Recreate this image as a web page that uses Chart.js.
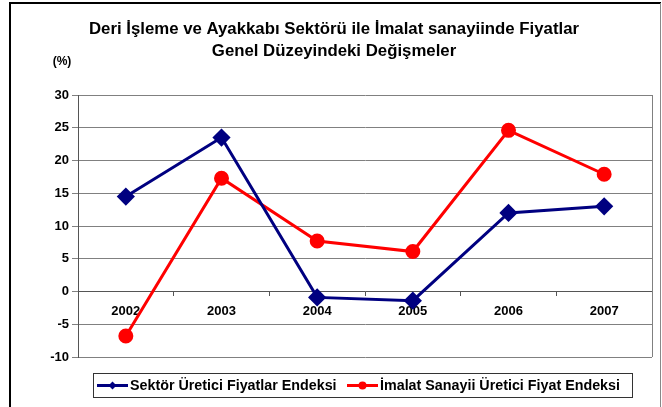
<!DOCTYPE html>
<html>
<head>
<meta charset="utf-8">
<script src="https://cdn.jsdelivr.net/npm/chart.js@4"></script>
<style>
  html, body { margin: 0; padding: 0; background: #fff; }
  #wrap { width: 662px; height: 407px; }
</style>
</head>
<body>
<div id="wrap"><canvas id="fiyatChart" width="662" height="407"></canvas></div>
<script>
const years = ["2002", "2003", "2004", "2005", "2006", "2007"];
const sektorValues = [14.5, 23.5, -0.9, -1.4, 12.0, 13.0];
const imalatValues = [-6.8, 17.3, 7.7, 6.1, 24.6, 17.9];
const titleLines = ["Deri İşleme ve Ayakkabı Sektörü ile İmalat sanayiinde Fiyatlar", "Genel Düzeyindeki Değişmeler"];
const unitLabel = "(%)";

const FONT = "'Liberation Sans', Arial, sans-serif";

// title, unit label, legend box, frame
const decorPlugin = {
  id: 'decor',
  afterDraw(chart) {
    const ctx = chart.ctx;
    const area = chart.chartArea;
    ctx.save();
    // right edge of plot area
    ctx.strokeStyle = '#808080';
    ctx.lineWidth = 1;
    ctx.beginPath();
    ctx.moveTo(area.right + 0.5, area.top);
    ctx.lineTo(area.right + 0.5, area.bottom);
    ctx.stroke();

    // frame
    ctx.strokeStyle = '#000';
    ctx.lineWidth = 2;
    ctx.beginPath();
    ctx.moveTo(10, 407);
    ctx.lineTo(10, 3);
    ctx.lineTo(661, 3);
    ctx.stroke();
    ctx.strokeStyle = '#888';
    ctx.lineWidth = 1;
    ctx.beginPath();
    ctx.moveTo(660.5, 3);
    ctx.lineTo(660.5, 407);
    ctx.stroke();

    // title
    ctx.fillStyle = '#000';
    ctx.font = 'bold 16.8px ' + FONT;
    ctx.textAlign = 'center';
    ctx.textBaseline = 'middle';
    ctx.fillText(titleLines[0], 334, 29);
    ctx.fillText(titleLines[1], 334, 51);

    ctx.font = 'bold 12px ' + FONT;
    ctx.fillText(unitLabel, 62, 62);

    // legend
    ctx.strokeStyle = '#333';
    ctx.lineWidth = 1;
    ctx.strokeRect(93.5, 373.5, 539, 24);
    ctx.font = 'bold 14.3px ' + FONT;
    ctx.textAlign = 'left';
    const items = [{ x: 97, ds: chart.data.datasets[0] }, { x: 347, ds: chart.data.datasets[1] }];
    items.forEach(it => {
      const y = 385.5;
      ctx.strokeStyle = it.ds.borderColor;
      ctx.lineWidth = 3;
      ctx.beginPath();
      ctx.moveTo(it.x, y);
      ctx.lineTo(it.x + 31, y);
      ctx.stroke();
      ctx.fillStyle = it.ds.borderColor;
      ctx.beginPath();
      if (it.ds.pointStyle === 'rectRot') {
        const cx = it.x + 15.5;
        ctx.moveTo(cx, y - 4); ctx.lineTo(cx + 4, y); ctx.lineTo(cx, y + 4); ctx.lineTo(cx - 4, y);
      } else {
        ctx.arc(it.x + 15.5, y, 4, 0, Math.PI * 2);
      }
      ctx.fill();
      ctx.fillStyle = '#000';
      ctx.fillText(it.ds.label, it.x + 33, y + 1);
    });
    ctx.restore();
  }
};

new Chart(document.getElementById('fiyatChart'), {
  type: 'line',
  data: {
    labels: years,
    datasets: [{
      label: 'Sektör Üretici Fiyatlar Endeksi',
      data: sektorValues,
      borderColor: '#000080',
      backgroundColor: '#000080',
      borderWidth: 3,
      pointStyle: 'rectRot',
      pointRadius: 7,
      pointHoverRadius: 7,
      tension: 0
    }, {
      label: 'İmalat Sanayii Üretici Fiyat Endeksi',
      data: imalatValues,
      borderColor: '#FF0000',
      backgroundColor: '#FF0000',
      borderWidth: 3,
      pointStyle: 'circle',
      pointRadius: 6,
      pointHoverRadius: 6,
      tension: 0
    }]
  },
  options: {
    responsive: false,
    animation: false,
    layout: { padding: { left: 0, right: 9, top: 95, bottom: 50 } },
    plugins: {
      legend: { display: false },
      title: { display: false },
      tooltip: { enabled: false }
    },
    scales: {
      x: {
        position: { y: 0 },
        offset: true,
        grid: {
          display: true,
          drawOnChartArea: false,
          offset: true,
          tickLength: 4,
          color: '#555'
        },
        border: { color: '#555', width: 1 },
        ticks: {
          color: '#000',
          padding: 8,
          font: { family: FONT, size: 13, weight: 'bold' }
        }
      },
      y: {
        min: -10,
        max: 30,
        afterFit(scale) { scale.width = 78; },
        grid: {
          color: '#808080',
          tickLength: 6
        },
        border: { color: '#555', width: 1 },
        ticks: {
          stepSize: 5,
          color: '#000',
          padding: 3,
          font: { family: FONT, size: 13, weight: 'bold' }
        }
      }
    }
  },
  plugins: [decorPlugin]
});
</script>
</body>
</html>
